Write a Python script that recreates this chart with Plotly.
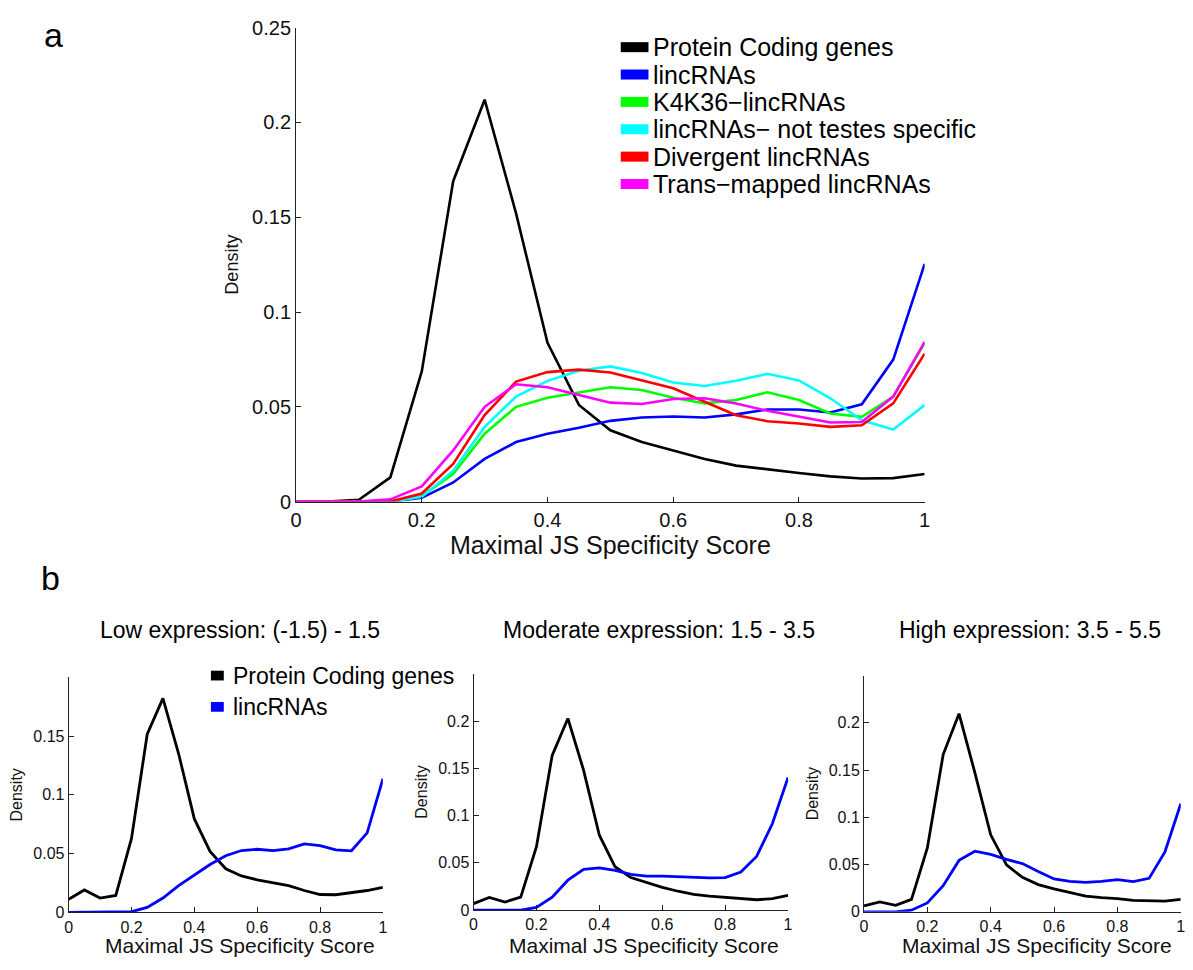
import plotly.graph_objects as go

# ---------------- data ----------------
x_bins = [0.0, 0.05, 0.1, 0.15, 0.2, 0.25, 0.3, 0.35, 0.4, 0.45, 0.5,
          0.55, 0.6, 0.65, 0.7, 0.75, 0.8, 0.85, 0.9, 0.95, 1.0]

# panel a
a_protein = [0, 0, 0.001, 0.0128, 0.0687, 0.169, 0.212, 0.152, 0.0837, 0.051, 0.0376,
             0.0314, 0.027, 0.0225, 0.019, 0.0169, 0.0151, 0.0133, 0.0122, 0.0124, 0.0146]
a_linc = [0, 0, 0, 0, 0.002, 0.0101, 0.0225, 0.0314, 0.0358, 0.039, 0.0426,
          0.0444, 0.0449, 0.0444, 0.046, 0.0486, 0.0486, 0.047, 0.0513, 0.0749, 0.1254]
a_k4k36 = [0, 0, 0, 0, 0.003, 0.0146, 0.0358, 0.05, 0.0548, 0.0575, 0.0603,
           0.0589, 0.0548, 0.0518, 0.0536, 0.0577, 0.0536, 0.0465, 0.0447, 0.0554, 0.0837]
a_not_testes = [0, 0, 0, 0, 0.0025, 0.0163, 0.0394, 0.0554, 0.0637, 0.069, 0.0713,
                0.0678, 0.0628, 0.061, 0.0637, 0.0674, 0.0639, 0.0545, 0.0429, 0.038, 0.0509]
a_divergent = [0, 0, 0, 0, 0.0043, 0.0199, 0.0456, 0.0633, 0.0683, 0.0696, 0.0681,
               0.0639, 0.0598, 0.0527, 0.0456, 0.0424, 0.0412, 0.0394, 0.0403, 0.0518, 0.078]
a_trans = [0, 0, 0, 0.0012, 0.008, 0.027, 0.05, 0.0619, 0.0603, 0.0562, 0.0522,
           0.0515, 0.0541, 0.0545, 0.0518, 0.0479, 0.0447, 0.0417, 0.042, 0.0554, 0.0843]

a_names = ["Protein Coding genes", "lincRNAs", "K4K36\u2212lincRNAs",
           "lincRNAs\u2212 not testes specific", "Divergent lincRNAs", "Trans\u2212mapped lincRNAs"]
a_colors = ["#000000", "#0000ff", "#00ff00", "#00ffff", "#ff0000", "#ff00ff"]
a_series = [a_protein, a_linc, a_k4k36, a_not_testes, a_divergent, a_trans]

# panel b
b_titles = ["Low expression: (-1.5) - 1.5", "Moderate expression: 1.5 - 3.5",
            "High expression: 3.5 - 5.5"]
b_low_protein = [0.0111, 0.0191, 0.0122, 0.0144, 0.0629, 0.1515, 0.182, 0.1349, 0.0795, 0.0518, 0.0371,
                 0.031, 0.0277, 0.0255, 0.0227, 0.0186, 0.0152, 0.015, 0.0166, 0.0186, 0.0213]
b_low_linc = [0, 0, 0, 0, 0.0006, 0.0042, 0.0122, 0.0227, 0.0316, 0.0407, 0.0482,
              0.0526, 0.0537, 0.0526, 0.054, 0.0582, 0.0568, 0.0532, 0.0524, 0.0676, 0.1136]
b_mod_protein = [0.0069, 0.0134, 0.0086, 0.0138, 0.0672, 0.1638, 0.2028, 0.148, 0.0793, 0.0459, 0.0345,
                 0.0293, 0.0241, 0.02, 0.0166, 0.0148, 0.0138, 0.0121, 0.011, 0.0121, 0.0155]
b_mod_linc = [0, 0, 0, 0, 0.0028, 0.0138, 0.0317, 0.0431, 0.0448, 0.0421, 0.0379,
              0.0359, 0.0359, 0.0352, 0.0341, 0.0341, 0.0345, 0.0403, 0.0569, 0.0914, 0.1403]
b_high_protein = [0.0062, 0.0104, 0.0069, 0.0132, 0.0676, 0.1664, 0.2097, 0.1473, 0.0815, 0.0496, 0.0364,
                  0.0288, 0.0243, 0.0201, 0.0166, 0.0149, 0.0139, 0.0121, 0.0114, 0.0114, 0.0132]
b_high_linc = [0, 0, 0, 0.0017, 0.0094, 0.0277, 0.0544, 0.0641, 0.0607, 0.0555, 0.051,
               0.0426, 0.0347, 0.0322, 0.0312, 0.0322, 0.034, 0.0319, 0.0354, 0.0634, 0.1144]
b_protein = [b_low_protein, b_mod_protein, b_high_protein]
b_linc = [b_low_linc, b_mod_linc, b_high_linc]
b_names = ["Protein Coding genes", "lincRNAs"]
b_colors = ["#000000", "#0000ff"]

x_title = "Maximal JS Specificity Score"
y_title = "Density"
x_tickvals = [0, 0.2, 0.4, 0.6, 0.8, 1]
x_ticktext = ["0", "0.2", "0.4", "0.6", "0.8", "1"]
a_ytickvals = [0, 0.05, 0.1, 0.15, 0.2, 0.25]
a_yticktext = ["0", "0.05", "0.1", "0.15", "0.2", "0.25"]
b_ytickvals = [[0, 0.05, 0.1, 0.15], [0, 0.05, 0.1, 0.15, 0.2], [0, 0.05, 0.1, 0.15, 0.2]]
b_yticktext = [["0", "0.05", "0.1", "0.15"], ["0", "0.05", "0.1", "0.15", "0.2"],
               ["0", "0.05", "0.1", "0.15", "0.2"]]
b_yranges = [[0, 0.2], [0, 0.25], [0, 0.25]]

# ---------------- layout helpers ----------------
W, H = 1193, 970
FONT = "Liberation Sans, Arial, Helvetica, sans-serif"


def px(xp):
    return min(1.0, max(0.0, xp / W))


def py(yp):
    return min(1.0, max(0.0, 1 - yp / H))


fig = go.Figure()

# panel a traces
for name, color, ys in zip(a_names, a_colors, a_series):
    fig.add_trace(go.Scatter(x=x_bins, y=ys, mode="lines", name=name,
                             line=dict(color=color, width=2.6), showlegend=False,
                             xaxis="x", yaxis="y"))

# panel b traces
for i in range(3):
    xa = "x%d" % (i + 2)
    ya = "y%d" % (i + 2)
    fig.add_trace(go.Scatter(x=x_bins, y=b_protein[i], mode="lines", name=b_names[0],
                             line=dict(color=b_colors[0], width=2.8), showlegend=False,
                             xaxis=xa, yaxis=ya))
    fig.add_trace(go.Scatter(x=x_bins, y=b_linc[i], mode="lines", name=b_names[1],
                             line=dict(color=b_colors[1], width=2.8), showlegend=False,
                             xaxis=xa, yaxis=ya))

axis_common = dict(showline=True, linecolor="#222", linewidth=1, ticks="inside",
                   ticklen=5, tickcolor="#222", showgrid=False, zeroline=False,
                   mirror=False, color="#111", ticklabeloverflow="allow")

layout = dict(
    width=W, height=H, autosize=False,
    margin=dict(l=0, r=0, t=0, b=0),
    paper_bgcolor="white", plot_bgcolor="white",
    font=dict(family=FONT, color="#111"),
    showlegend=False, hovermode=False,
)

# panel a axes
layout["xaxis"] = dict(axis_common, domain=[px(293), px(928)], range=[0, 1],
                       tickvals=x_tickvals, ticktext=x_ticktext, anchor="y",
                       tickfont=dict(size=20),
                       title=dict(text=x_title, font=dict(size=25), standoff=4))
layout["yaxis"] = dict(axis_common, domain=[py(502), py(17)], range=[0, 0.25],
                       tickvals=a_ytickvals, ticktext=a_yticktext, anchor="x",
                       tickfont=dict(size=20),
                       title=dict(text=y_title, font=dict(size=18), standoff=8))

b_xdom = [(63.3, 380.7), (472.3, 790), (866.7, 1186.7)]
b_ydom = [(922.3, 681.7), (920, 678.3), (921.7, 680)]
for i in range(3):
    n = i + 2
    layout["xaxis%d" % n] = dict(axis_common, domain=[px(b_xdom[i][0]), px(b_xdom[i][1])],
                                 range=[0, 1], tickvals=x_tickvals, ticktext=x_ticktext,
                                 anchor="y%d" % n, tickfont=dict(size=16))
    layout["yaxis%d" % n] = dict(axis_common, domain=[py(b_ydom[i][0]), py(b_ydom[i][1])],
                                 range=b_yranges[i], tickvals=b_ytickvals[i],
                                 ticktext=b_yticktext[i], anchor="x%d" % n,
                                 tickfont=dict(size=16),
                                 title=dict(text=y_title, font=dict(size=16), standoff=6))

annotations = []
shapes = []

# panel labels
annotations.append(dict(text="a", x=px(48), y=py(25), xref="paper", yref="paper",
                        showarrow=False, font=dict(size=34, color="#000"),
                        xanchor="center", yanchor="middle"))
annotations.append(dict(text="b", x=px(45), y=py(580), xref="paper", yref="paper",
                        showarrow=False, font=dict(size=34, color="#000"),
                        xanchor="center", yanchor="middle"))

# panel b titles and x-axis labels (the source places them slightly right of centre)
b_title_cx = [236, 660, 1034]
for t, cx in zip(b_titles, b_title_cx):
    annotations.append(dict(text=t, x=px(cx), y=py(633), xref="paper", yref="paper",
                            showarrow=False, font=dict(size=23, color="#000"),
                            xanchor="center", yanchor="middle"))
b_xlabel_cx = [236, 644, 1041]
for cx in b_xlabel_cx:
    annotations.append(dict(text=x_title, x=px(cx), y=py(956), xref="paper", yref="paper",
                            showarrow=False, font=dict(size=21, color="#111"),
                            xanchor="center", yanchor="middle"))

# panel a legend (swatches + labels)
leg_a_top, leg_a_step = 37, 28
for k, (name, color) in enumerate(zip(a_names, a_colors)):
    yrow = leg_a_top + k * leg_a_step
    shapes.append(dict(type="line", xref="paper", yref="paper",
                       x0=px(621), x1=px(649), y0=py(yrow), y1=py(yrow),
                       line=dict(color=color, width=10)))
    annotations.append(dict(text=name, x=px(652), y=py(yrow), xref="paper", yref="paper",
                            showarrow=False, font=dict(size=25, color="#000"),
                            xanchor="left", yanchor="middle"))

# panel b legend
leg_b_top, leg_b_step = 680, 32
for k, (name, color) in enumerate(zip(b_names, b_colors)):
    yrow = leg_b_top + k * leg_b_step
    shapes.append(dict(type="rect", xref="paper", yref="paper",
                       x0=px(207), x1=px(220), y0=py(yrow - 5), y1=py(yrow + 5),
                       fillcolor=color, line=dict(width=0)))
    annotations.append(dict(text=name, x=px(227), y=py(yrow), xref="paper", yref="paper",
                            showarrow=False, font=dict(size=23, color="#000"),
                            xanchor="left", yanchor="middle"))

layout["annotations"] = annotations
layout["shapes"] = shapes
fig.update_layout(**layout)

# remove the default page margin so the figure fills the window exactly
fig.write_html("out.html",
               config={"displayModeBar": False},
               post_script="document.body.style.margin='0px';document.body.style.overflow='hidden';")
